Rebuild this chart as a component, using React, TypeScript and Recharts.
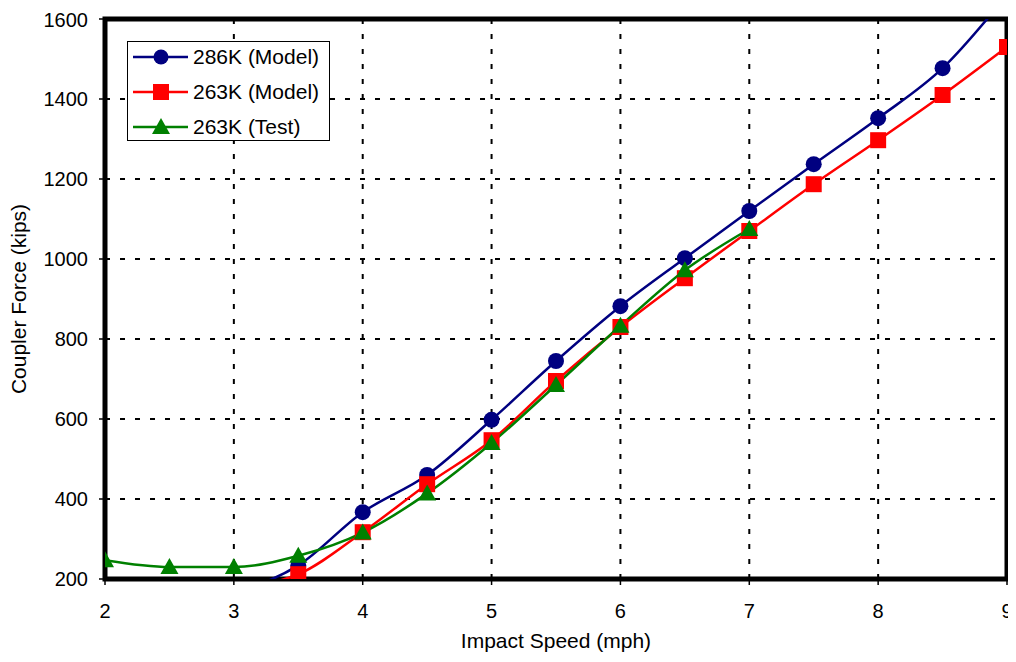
import React from "react";
import {
  LineChart,
  Line,
  XAxis,
  YAxis,
  CartesianGrid,
  ReferenceArea,
  Legend,
} from "recharts";

// Impact speed (mph) against coupler force (kips)
const speeds = [2, 2.5, 3, 3.5, 4, 4.5, 5, 5.5, 6, 6.5, 7, 7.5, 8, 8.5, 9];
const model286K: (number | null)[] = [null, null, 165, 234, 367, 460, 598, 745, 882, 1002, 1120, 1237, 1352, 1477, 1660];
const model263K: (number | null)[] = [null, null, 178, 212, 317, 437, 547, 695, 830, 952, 1070, 1187, 1297, 1410, 1530];
const test263K: (number | null)[] = [247, 230, 230, 258, 316, 414, 540, 685, 833, 972, 1075, null, null, null, null];

const xTicks = [2, 3, 4, 5, 6, 7, 8, 9];
const yTicks = [200, 400, 600, 800, 1000, 1200, 1400, 1600];

const data = speeds.map((s, i) => ({
  speed: s,
  m286: model286K[i],
  m263: model263K[i],
  t263: test263K[i],
}));

const NAVY = "#000080";
const RED = "#FF0000";
const GREEN = "#008000";
const FONT = "'Liberation Sans', Arial, sans-serif";

const CircleDot = (props: any) => {
  const { cx, cy, value, index } = props;
  if (value == null || value < 200 || value > 1600) return <g key={index} />;
  return <circle key={index} cx={cx} cy={cy} r={8} fill={NAVY} stroke="none" />;
};

const SquareDot = (props: any) => {
  const { cx, cy, value, index } = props;
  if (value == null || value < 200 || value > 1600) return <g key={index} />;
  return <rect key={index} x={cx - 8} y={cy - 8} width={16} height={16} fill={RED} stroke="none" />;
};

const TriangleDot = (props: any) => {
  const { cx, cy, value, index } = props;
  if (value == null || value < 200 || value > 1600) return <g key={index} />;
  return (
    <path
      key={index}
      d={`M${cx},${cy - 9} L${cx + 9},${cy + 7} L${cx - 9},${cy + 7} Z`}
      fill={GREEN}
      stroke="none"
    />
  );
};

const legendItems = [
  { label: "286K (Model)", color: NAVY, shape: "circle" },
  { label: "263K (Model)", color: RED, shape: "square" },
  { label: "263K (Test)", color: GREEN, shape: "triangle" },
];

const LegendBox = () => (
  <div
    style={{
      position: "relative",
      width: 203,
      height: 100,
      border: "1px solid #000",
      background: "#fff",
      boxSizing: "border-box",
      fontFamily: FONT,
      fontSize: 21,
      color: "#000",
    }}
  >
    {legendItems.map((it, i) => (
      <div
        key={it.label}
        style={{
          position: "absolute",
          left: 0,
          top: 15 + i * 35 - 13,
          height: 26,
          display: "flex",
          alignItems: "center",
          whiteSpace: "nowrap",
        }}
      >
        <svg width={60} height={26} style={{ marginLeft: 5, display: "block" }}>
          <line x1={0} y1={13} x2={55} y2={13} stroke={it.color} strokeWidth={2.5} />
          {it.shape === "circle" && <circle cx={28} cy={13} r={7.5} fill={it.color} />}
          {it.shape === "square" && <rect x={20} y={5} width={16} height={16} fill={it.color} />}
          {it.shape === "triangle" && <path d="M28,4 L37,20 L19,20 Z" fill={it.color} />}
        </svg>
        <span style={{ lineHeight: "26px" }}>{it.label}</span>
      </div>
    ))}
  </div>
);

const XTick = (props: any) => {
  const { x, y, payload } = props;
  return (
    <text x={x} y={y + 24} textAnchor="middle" dominantBaseline="central" fill="#000" fontSize={20} fontFamily={FONT}>
      {payload.value}
    </text>
  );
};

export default function App() {
  return (
    <div style={{ fontFamily: FONT, width: 1008, height: 646 }}>
      <style>{`html, body { overflow: hidden; } .recharts-surface { overflow: visible; }`}</style>
      <LineChart
        width={1008}
        height={646}
        data={data}
        margin={{ top: 11, right: 9, bottom: 5, left: 0 }}
      >
        <CartesianGrid
          stroke="#000"
          strokeWidth={2}
          strokeDasharray="5 10"
          horizontalValues={yTicks}
          verticalValues={xTicks}
        />
        <XAxis
          dataKey="speed"
          type="number"
          domain={[2, 9]}
          ticks={xTicks}
          allowDataOverflow
          height={70}
          axisLine={false}
          tickLine={{ stroke: "#000", strokeWidth: 1.5 }}
          tickSize={6}
          tick={<XTick />}
          label={{
            value: "Impact Speed (mph)",
            position: "insideBottom",
            offset: 1,
            fill: "#000",
            fontSize: 21,
            fontFamily: FONT,
          }}
        />
        <YAxis
          type="number"
          domain={[200, 1600]}
          ticks={yTicks}
          allowDataOverflow
          width={97}
          axisLine={false}
          tickLine={{ stroke: "#000", strokeWidth: 1.5 }}
          tickSize={6}
          tick={{ fill: "#000", fontSize: 20, fontFamily: FONT, dx: -9 }}
          label={{
            value: "Coupler Force (kips)",
            angle: -90,
            position: "insideLeft",
            offset: 11,
            style: { textAnchor: "middle" },
            fill: "#000",
            fontSize: 21,
            fontFamily: FONT,
          }}
        />
        <Line
          type="monotone"
          dataKey="m286"
          stroke={NAVY}
          strokeWidth={2.5}
          dot={<CircleDot />}
          activeDot={false}
          isAnimationActive={false}
        />
        <Line
          type="monotone"
          dataKey="m263"
          stroke={RED}
          strokeWidth={2.5}
          dot={<SquareDot />}
          activeDot={false}
          isAnimationActive={false}
        />
        <Line
          type="monotone"
          dataKey="t263"
          stroke={GREEN}
          strokeWidth={2.5}
          dot={<TriangleDot />}
          activeDot={false}
          isAnimationActive={false}
        />
        <ReferenceArea
          x1={2}
          x2={9}
          y1={200}
          y2={1600}
          fill="none"
          fillOpacity={0}
          stroke="#000"
          strokeWidth={5}
          ifOverflow="visible"
        />
        <Legend
          layout="vertical"
          align="center"
          verticalAlign="middle"
          content={() => <LegendBox />}
          wrapperStyle={{ position: "absolute", left: 119, top: 33, width: 203, height: 100 }}
        />
      </LineChart>
    </div>
  );
}
